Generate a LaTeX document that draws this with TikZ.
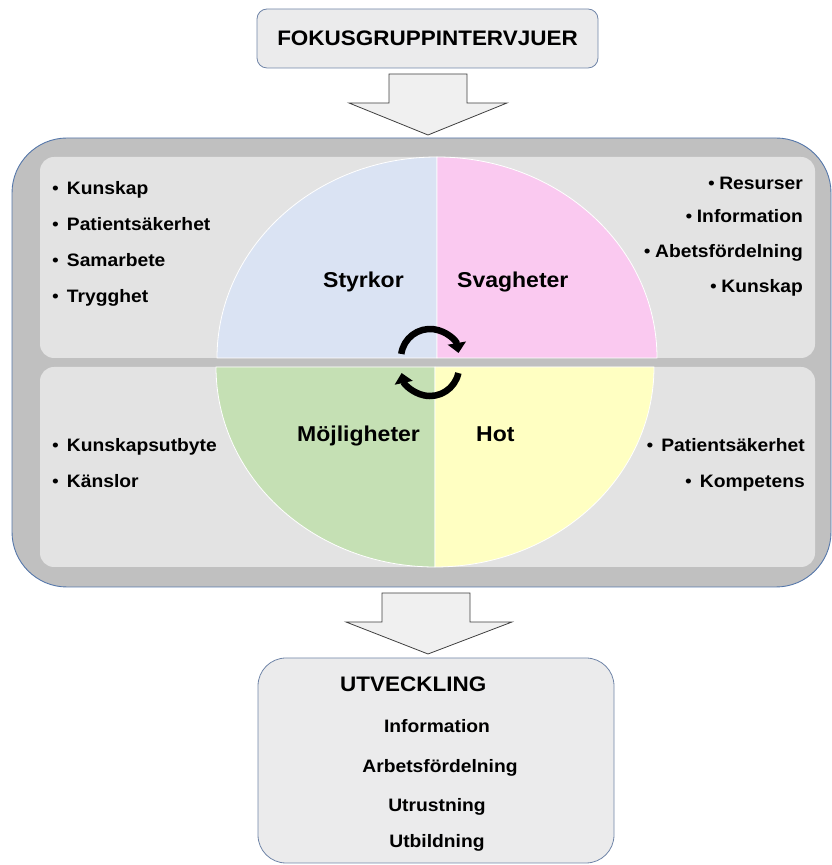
\documentclass[tikz,border=0pt]{standalone}
\usepackage{fontspec}
\setmainfont{Liberation Sans}[FakeStretch=1.07]
\usetikzlibrary{arrows.meta}

\definecolor{boxline}{HTML}{7085A8}
\definecolor{frameline}{HTML}{5577AA}
\definecolor{framefill}{HTML}{C0C0C0}
\definecolor{panelfill}{HTML}{E3E3E3}
\definecolor{boxfill}{HTML}{EBEBEC}
\definecolor{arrowfill}{HTML}{F0F0F0}
\definecolor{arrowline}{HTML}{404040}
\definecolor{quadblue}{HTML}{DAE3F3}
\definecolor{quadpink}{HTML}{FAC9F0}
\definecolor{quadgreen}{HTML}{C5E0B4}
\definecolor{quadyellow}{HTML}{FFFFC2}

\newcommand{\bul}{{\mdseries\textbullet}}

\begin{document}
\begin{tikzpicture}[x=1pt,y=1pt,
    listtext/.style={font=\fontsize{18}{20}\selectfont\bfseries, inner sep=0pt},
    quadtext/.style={font=\fontsize{21.5}{24}\selectfont\bfseries, inner sep=0pt},
    headtext/.style={font=\fontsize{21}{24}\selectfont\bfseries, inner sep=0pt},
    blockarrow/.style={draw=arrowline, fill=arrowfill, line width=0.8pt},
    quadrant/.style={draw=white, line width=0.8pt},
    cyclearrow/.style={line width=6.5pt, -{Triangle[length=10pt,width=18pt]}}]

    \useasboundingbox (0,0) rectangle (832,865);

    % Top box
    \node[headtext, draw=boxline, fill=boxfill, line width=0.8pt, rounded corners=10pt,
          minimum width=341pt, minimum height=59pt] (fokus) at (427.5,826.5) {FOKUSGRUPPINTERVJUER};

    % Arrow down into the frame
    \draw[blockarrow] (389,791) -- (467,791) -- (467,762) -- (507,762) -- (428,730)
        -- (349,762) -- (389,762) -- cycle;

    % Big frame
    \draw[draw=frameline, fill=framefill, line width=0.9pt, rounded corners=55pt] (12,278) rectangle (831,727);

    %% Panels
    \fill[panelfill, rounded corners=14pt] (40,507) rectangle (815,708);
    \fill[panelfill, rounded corners=14pt] (40,298) rectangle (815,498);

    %% Quadrants
    \draw[quadrant, fill=quadblue] (437,507) -- (217,507) arc[start angle=180, end angle=90, x radius=220, y radius=201] -- cycle;
    \draw[quadrant, fill=quadpink] (437,507) -- (437,708) arc[start angle=90, end angle=0, x radius=220, y radius=201] -- cycle;
    \draw[quadrant, fill=quadgreen] (435,498) -- (216,498) arc[start angle=180, end angle=270, x radius=219, y radius=200] -- cycle;
    \draw[quadrant, fill=quadyellow] (435,498) -- (435,298) arc[start angle=270, end angle=360, x radius=219, y radius=200] -- cycle;

    %% Circle arrows
    \draw[cyclearrow] (430,507) ++(172:29) arc[start angle=172, end angle=10, radius=29];
    \draw[cyclearrow] (430,498) ++(-12:29) arc[start angle=-12, end angle=-168, radius=29];

    %% Quadrant labels
    \node[quadtext, anchor=base west] (styrkor) at (323,577) {Styrkor};
    \node[quadtext, anchor=base west] (svagheter) at (457,577) {Svagheter};
    \node[quadtext, anchor=base west] (mojligheter) at (297,423) {Möjligheter};
    \node[quadtext, anchor=base west] (hot) at (476,423) {Hot};

    %% Strengths
    \node[listtext, anchor=base west] (s1) at (52,670) {\bul\hspace{8pt}Kunskap};
    \node[listtext, anchor=base west] (s2) at (52,634) {\bul\hspace{8pt}Patientsäkerhet};
    \node[listtext, anchor=base west] (s3) at (52,598) {\bul\hspace{8pt}Samarbete};
    \node[listtext, anchor=base west] (s4) at (52,562) {\bul\hspace{8pt}Trygghet};

    %% Weaknesses
    \node[listtext, anchor=base east] (w1) at (803,675) {\bul\hspace{4.5pt}Resurser};
    \node[listtext, anchor=base east] (w2) at (803,642) {\bul\hspace{4.5pt}Information};
    \node[listtext, anchor=base east] (w3) at (803,607) {\bul\hspace{4.5pt}Abetsfördelning};
    \node[listtext, anchor=base east] (w4) at (803,572) {\bul\hspace{4.5pt}Kunskap};

    %% Opportunities
    \node[listtext, anchor=base west] (o1) at (52,413) {\bul\hspace{8pt}Kunskapsutbyte};
    \node[listtext, anchor=base west] (o2) at (52,377) {\bul\hspace{8pt}Känslor};

    %% Threats
    \node[listtext, anchor=base east] (t1) at (805,413) {\bul\hspace{8pt}Patientsäkerhet};
    \node[listtext, anchor=base east] (t2) at (805,377) {\bul\hspace{8pt}Kompetens};

    % Arrow down to the result
    \draw[blockarrow] (382,272) -- (470,272) -- (470,243) -- (512,243) -- (428,211)
        -- (346,243) -- (382,243) -- cycle;

    % Bottom box
    \draw[draw=boxline, fill=boxfill, line width=0.8pt, rounded corners=28pt] (258,2) rectangle (614,207);

    \node[headtext, anchor=base west] (utveckling) at (340,173) {UTVECKLING};
    \node[listtext, anchor=base] (u1) at (437,132) {Information};
    \node[listtext, anchor=base] (u2) at (440,92) {Arbetsfördelning};
    \node[listtext, anchor=base] (u3) at (437,53) {Utrustning};
    \node[listtext, anchor=base] (u4) at (437,17) {Utbildning};

\end{tikzpicture}
\end{document}
